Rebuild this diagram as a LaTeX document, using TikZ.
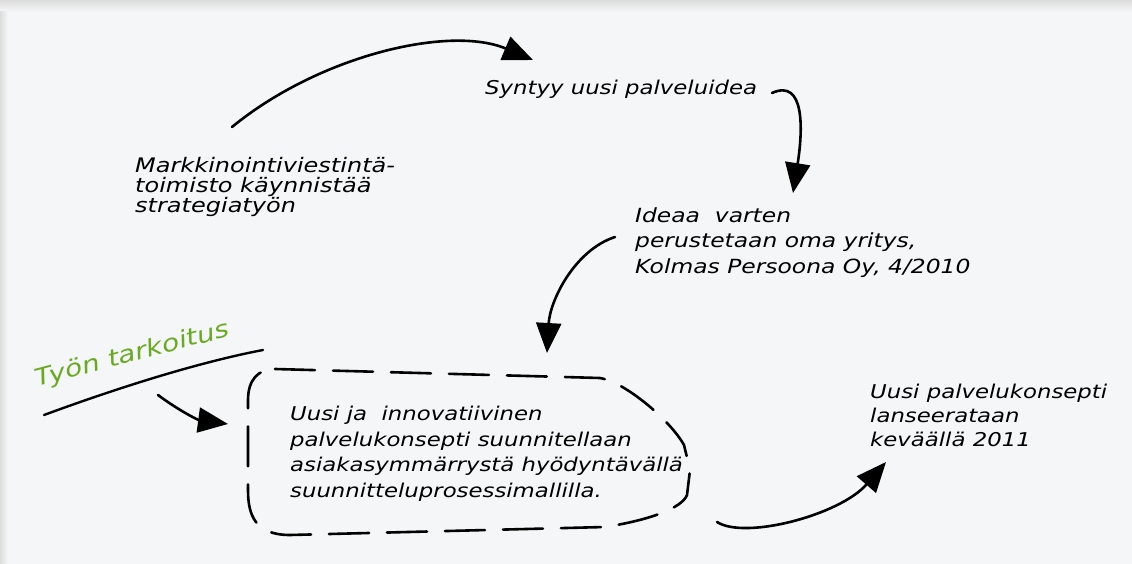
\documentclass[tikz,border=0pt]{standalone}
\usepackage{fontspec}
\setmainfont{DejaVu Sans}[FakeStretch=1.2]
\usetikzlibrary{arrows.meta}
\definecolor{bg}{HTML}{F5F6F7}
\definecolor{shadowc}{HTML}{DCDCDC}
\definecolor{leaf}{HTML}{6AAA22}
\tikzset{
  hand/.style={font=\itshape\fontsize{19}{25.5}\selectfont, inner sep=0pt, align=left, anchor=base west, text=black},
  flow/.style={line width=2.6pt, -{Triangle[length=30pt,width=25pt]}, line cap=round},
  dashbox/.style={line width=2.6pt, dash pattern=on 40pt off 18pt, line cap=round},
}
\begin{document}
\begin{tikzpicture}[x=1pt,y=-1pt]
\useasboundingbox (0,0) rectangle (1132,564);
\fill[bg] (0,0) rectangle (1132,564);
\shade[top color=shadowc, bottom color=bg] (0,0) rectangle (1132,12);
\shade[left color=shadowc, right color=bg] (0,12) rectangle (8,564);

% text nodes (anchor = baseline of the last line)
\node[hand, font=\itshape\fontsize{20}{20}\selectfont] (mark) at (135,213) {Markkinointiviestintä-\\toimisto käynnistää\\strategiatyön};
\node[hand] (idea) at (485,95) {Syntyy uusi palveluidea};
\node[hand, font=\itshape\fontsize{19.5}{25.5}\selectfont] (firm) at (635,273) {Ideaa\ \ varten\\perustetaan oma yritys,\\Kolmas Persoona Oy, 4/2010};
\node[hand] (box) at (290,497) {Uusi ja\ \ innovatiivinen\\palvelukonsepti suunnitellaan\\asiakasymmärrystä hyödyntävällä\\suunnitteluprosessimallilla.};
\node[hand, font=\itshape\fontsize{19}{24}\selectfont] (launch) at (870,446) {Uusi palvelukonsepti\\lanseerataan\\keväällä 2011};
\node[hand, text=leaf, font=\itshape\fontsize{23.5}{25}\selectfont, rotate=14.8] (purpose) at (37,387) {Työn tarkoitus};

% dashed outline of the box
\draw[dashbox] (275,369) -- (600,378) .. controls (625,382) and (670,420) .. (684,445)
  -- (690,470) -- (687,495) .. controls (682,508) and (650,520) .. (605,527)
  -- (290,535) .. controls (255,535) and (248,515) .. (248,490)
  -- (248,400) .. controls (248,380) and (258,369) .. cycle;

% underline
\coordinate (ul1) at (44,415);
\coordinate (ul2) at (263,350);
\draw[line width=2.4pt, line cap=round] (ul1) .. controls (120,387) and (200,362) .. (ul2);

% connector ends
\coordinate (a1s) at (232,127);
\coordinate (a1e) at (533,60);
\coordinate (a2s) at (772,93);
\coordinate (a2e) at (793,193);
\coordinate (a3s) at (615,237);
\coordinate (a3e) at (547,353);
\coordinate (a4s) at (158,395);
\coordinate (a4e) at (228,424);
\coordinate (a5s) at (717,522);
\coordinate (a5e) at (886,462);

\draw[flow] (a1s) .. controls (320,55) and (450,25) .. (a1e);
\draw[flow] (a2s) .. controls (805,78) and (803,130) .. (a2e);
\draw[flow] (a3s) .. controls (575,250) and (550,300) .. (a3e);
\draw[flow] (a4s) .. controls (178,410) and (198,420) .. (a4e);
\draw[flow] (a5s) .. controls (745,540) and (840,515) .. (a5e);
\end{tikzpicture}
\end{document}
